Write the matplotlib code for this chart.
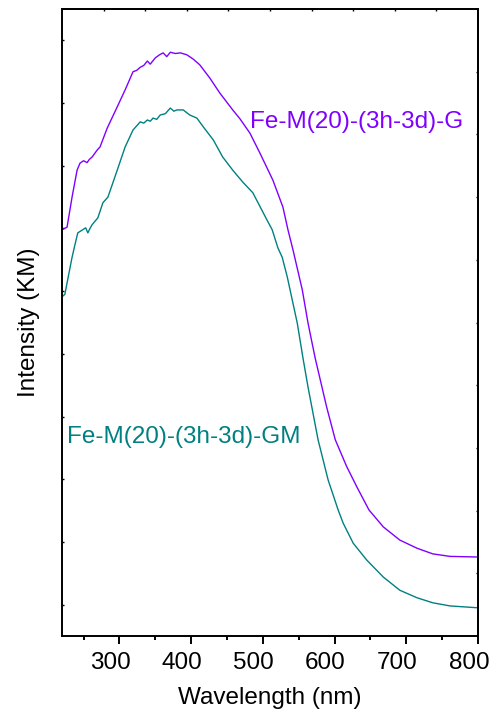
import matplotlib
matplotlib.use("Agg")
import matplotlib.pyplot as plt
import matplotlib.transforms as mtransforms
from matplotlib.ticker import MultipleLocator

plt.rcParams['font.family'] = ['Liberation Sans', 'DejaVu Sans']

# Fe-M(20)-(3h-3d)-G  (purple)
wl_g = [220, 227, 234, 241, 245, 250, 255, 258, 262, 269, 273, 283, 297, 308, 319, 324, 329,
        334, 339, 343, 350, 356, 361, 366, 371, 378, 385, 394, 403, 412, 426, 440, 458, 468,
        482, 496, 514, 528, 535, 542, 555, 563, 573, 589, 601, 617, 631, 648, 668, 691, 715,
        737, 761, 800]
int_g = [6.48, 6.52, 7.00, 7.43, 7.54, 7.58, 7.55, 7.60, 7.64, 7.75, 7.80, 8.10, 8.44, 8.71,
         9.00, 9.02, 9.07, 9.10, 9.17, 9.12, 9.22, 9.27, 9.30, 9.24, 9.31, 9.29, 9.30, 9.27,
         9.20, 9.11, 8.90, 8.66, 8.39, 8.25, 8.02, 7.70, 7.27, 6.84, 6.48, 6.16, 5.52, 4.99,
         4.43, 3.65, 3.13, 2.70, 2.38, 2.01, 1.74, 1.53, 1.40, 1.31, 1.27, 1.26]

# Fe-M(20)-(3h-3d)-GM  (teal)
wl_gm = [220, 224, 227, 234, 238, 242, 249, 253, 256, 259, 262, 270, 277, 284, 297, 308, 319,
         329, 334, 339, 343, 347, 352, 357, 364, 371, 376, 380, 389, 398, 408, 417, 431, 444,
         458, 472, 486, 506, 513, 521, 527, 534, 541, 548, 556, 563, 577, 591, 605, 612, 626,
         645, 668, 691, 715, 737, 761, 800]
int_gm = [5.41, 5.45, 5.63, 6.04, 6.24, 6.43, 6.48, 6.51, 6.43, 6.50, 6.56, 6.67, 6.91, 7.00,
          7.43, 7.80, 8.07, 8.20, 8.18, 8.23, 8.21, 8.26, 8.24, 8.31, 8.33, 8.42, 8.37, 8.39,
          8.39, 8.31, 8.26, 8.12, 7.91, 7.64, 7.43, 7.24, 7.07, 6.63, 6.48, 6.19, 6.04, 5.73,
          5.36, 4.99, 4.43, 3.97, 3.13, 2.49, 2.01, 1.80, 1.48, 1.21, 0.94, 0.73, 0.61, 0.53,
          0.48, 0.45]

x_ticks = [300, 400, 500, 600, 700, 800]
purple = '#8000FF'
teal = '#008080'

fig = plt.figure(figsize=(4.93, 7.19), dpi=100)
ax = fig.add_axes([0.1258, 0.1154, 0.8438, 0.8721])

ax.plot(wl_g, int_g, color=purple, lw=1.0)
ax.plot(wl_gm, int_gm, color=teal, lw=1.0)

ax.set_xlim(220, 800)
ax.set_ylim(0, 10)

ax.set_xticks(x_ticks)
ax.xaxis.set_minor_locator(MultipleLocator(50))
ax.tick_params(axis='x', which='major', direction='out', length=5.5, width=1.4,
               labelbottom=False, top=False)
ax.tick_params(axis='x', which='minor', direction='out', length=3, width=1.4, top=False)

# tick labels, sitting a little left of their ticks like the original
base = mtransforms.blended_transform_factory(ax.transData, ax.transAxes)
shift = mtransforms.ScaledTranslation(-9 / 100, -16 / 100, fig.dpi_scale_trans)
for xt in x_ticks:
    ax.text(xt, 0, str(xt), transform=base + shift, fontsize=17.5,
            ha='center', va='top', clip_on=False)

ax.set_yticks([k + 0.5 for k in range(10)])
ax.set_yticklabels([])
ax.tick_params(axis='y', which='major', direction='in', length=1.5, width=1, right=False)

# top and right axes carry their own faint ticks
top = ax.secondary_xaxis('top')
top.set_xticks([220 + 58 * k for k in range(1, 10)])
top.set_xticklabels([])
top.tick_params(direction='in', length=1.5, width=1)
right = ax.secondary_yaxis('right')
right.set_yticks(list(range(1, 10)))
right.set_yticklabels([])
right.tick_params(direction='in', length=1.5, width=1)

for s in list(ax.spines.values()) + [top.spines['top'], right.spines['right']]:
    s.set_linewidth(1.4)

ax.set_xlabel('Wavelength (nm)', fontsize=17.5, labelpad=30)
ax.set_ylabel('Intensity (KM)', fontsize=17.5, labelpad=12)

ax.text(482, 8.2, 'Fe-M(20)-(3h-3d)-G', color=purple, fontsize=17.5, va='center')
ax.text(227, 3.17, 'Fe-M(20)-(3h-3d)-GM', color=teal, fontsize=17.5, va='center')

fig.savefig('out.png', dpi=100)
